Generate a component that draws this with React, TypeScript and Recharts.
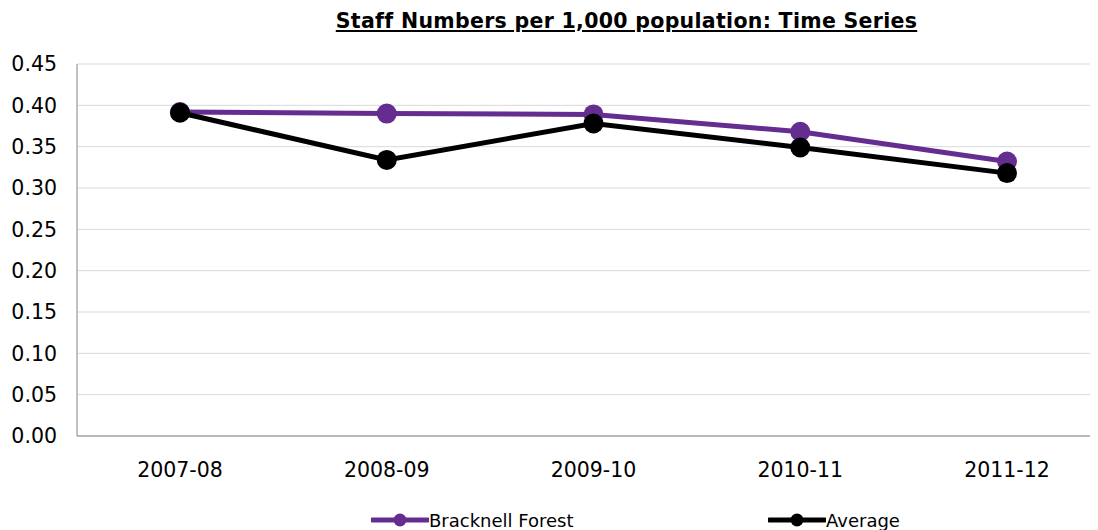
import React from "react";
import { LineChart, Line, XAxis, YAxis, CartesianGrid, Legend } from "recharts";

const categories = ["2007-08", "2008-09", "2009-10", "2010-11", "2011-12"];
const bracknellForest = [0.392, 0.39, 0.389, 0.368, 0.332];
const average = [0.391, 0.334, 0.378, 0.349, 0.318];
const yTicks = [0, 0.05, 0.1, 0.15, 0.2, 0.25, 0.3, 0.35, 0.4, 0.45];

const title = "Staff Numbers per 1,000 population: Time Series";
const seriesNames = ["Bracknell Forest", "Average"];
const PURPLE = "#662D91";
const BLACK = "#000000";
const FONT = "'DejaVu Sans', Verdana, sans-serif";

const data = categories.map((c, i) => ({
  category: c,
  bracknell: bracknellForest[i],
  average: average[i],
}));

const LegendContent = () => {
  const items = [
    { name: seriesNames[0], color: PURPLE, left: 363 },
    { name: seriesNames[1], color: BLACK, left: 760 },
  ];
  return (
    <div style={{ position: "relative", width: 1090, height: 24 }}>
      {items.map((it) => (
        <div
          key={it.name}
          style={{
            position: "absolute",
            left: it.left,
            top: 0,
            height: 24,
            display: "flex",
            alignItems: "center",
            fontFamily: FONT,
            fontSize: 18,
            color: "#000",
            whiteSpace: "nowrap",
          }}
        >
          <svg width={58} height={20} style={{ display: "block" }}>
            <line x1={1} y1={10} x2={57} y2={10} stroke={it.color} strokeWidth={5} strokeLinecap="round" />
            <circle cx={29} cy={10} r={6.5} fill={it.color} />
          </svg>
          <span>{it.name}</span>
        </div>
      ))}
    </div>
  );
};

export default function App() {
  return (
    <div style={{ position: "relative", width: 1090, height: 522, overflow: "hidden", background: "#fff" }}>
      <LineChart
        width={1110}
        height={522}
        data={data}
        margin={{ top: 56, right: 8, bottom: 40, left: 0 }}
      >
        <CartesianGrid vertical={false} stroke="#D9D9D9" strokeWidth={1} />
        <XAxis
          dataKey="category"
          height={30}
          tickLine={false}
          tickSize={0}
          tickMargin={26}
          padding={{ left: 103, right: 103 }}
          axisLine={{ stroke: "#868686", strokeWidth: 1 }}
          tick={{ fill: "#000", fontSize: 20.5, fontFamily: FONT }}
          interval={0}
        />
        <YAxis
          width={69}
          domain={[0, 0.45]}
          ticks={yTicks}
          tickFormatter={(v: number) => v.toFixed(2)}
          tickLine={false}
          tickSize={0}
          tickMargin={20}
          axisLine={{ stroke: "#868686", strokeWidth: 1 }}
          tick={{ fill: "#000", fontSize: 20.5, fontFamily: FONT }}
          allowDataOverflow
        />
        <Legend
          verticalAlign="bottom"
          height={24}
          wrapperStyle={{ left: 0, top: 500, width: 1090, height: 24 }}
          content={<LegendContent />}
        />
        <Line
          type="linear"
          dataKey="bracknell"
          name={seriesNames[0]}
          stroke={PURPLE}
          strokeWidth={5}
          dot={{ r: 10, fill: PURPLE, stroke: PURPLE, strokeWidth: 0 }}
          isAnimationActive={false}
        />
        <Line
          type="linear"
          dataKey="average"
          name={seriesNames[1]}
          stroke={BLACK}
          strokeWidth={5}
          dot={{ r: 10, fill: BLACK, stroke: BLACK, strokeWidth: 0 }}
          isAnimationActive={false}
        />
      </LineChart>
      <div
        style={{
          position: "absolute",
          left: 0,
          width: 1237,
          top: 1,
          textAlign: "center",
          fontFamily: FONT,
          fontWeight: "bold",
          fontSize: 20.5,
          lineHeight: "24px",
          letterSpacing: 0.3,
          textDecoration: "underline",
          color: "#000",
          zIndex: 2,
        }}
      >
        {title}
      </div>
    </div>
  );
}
